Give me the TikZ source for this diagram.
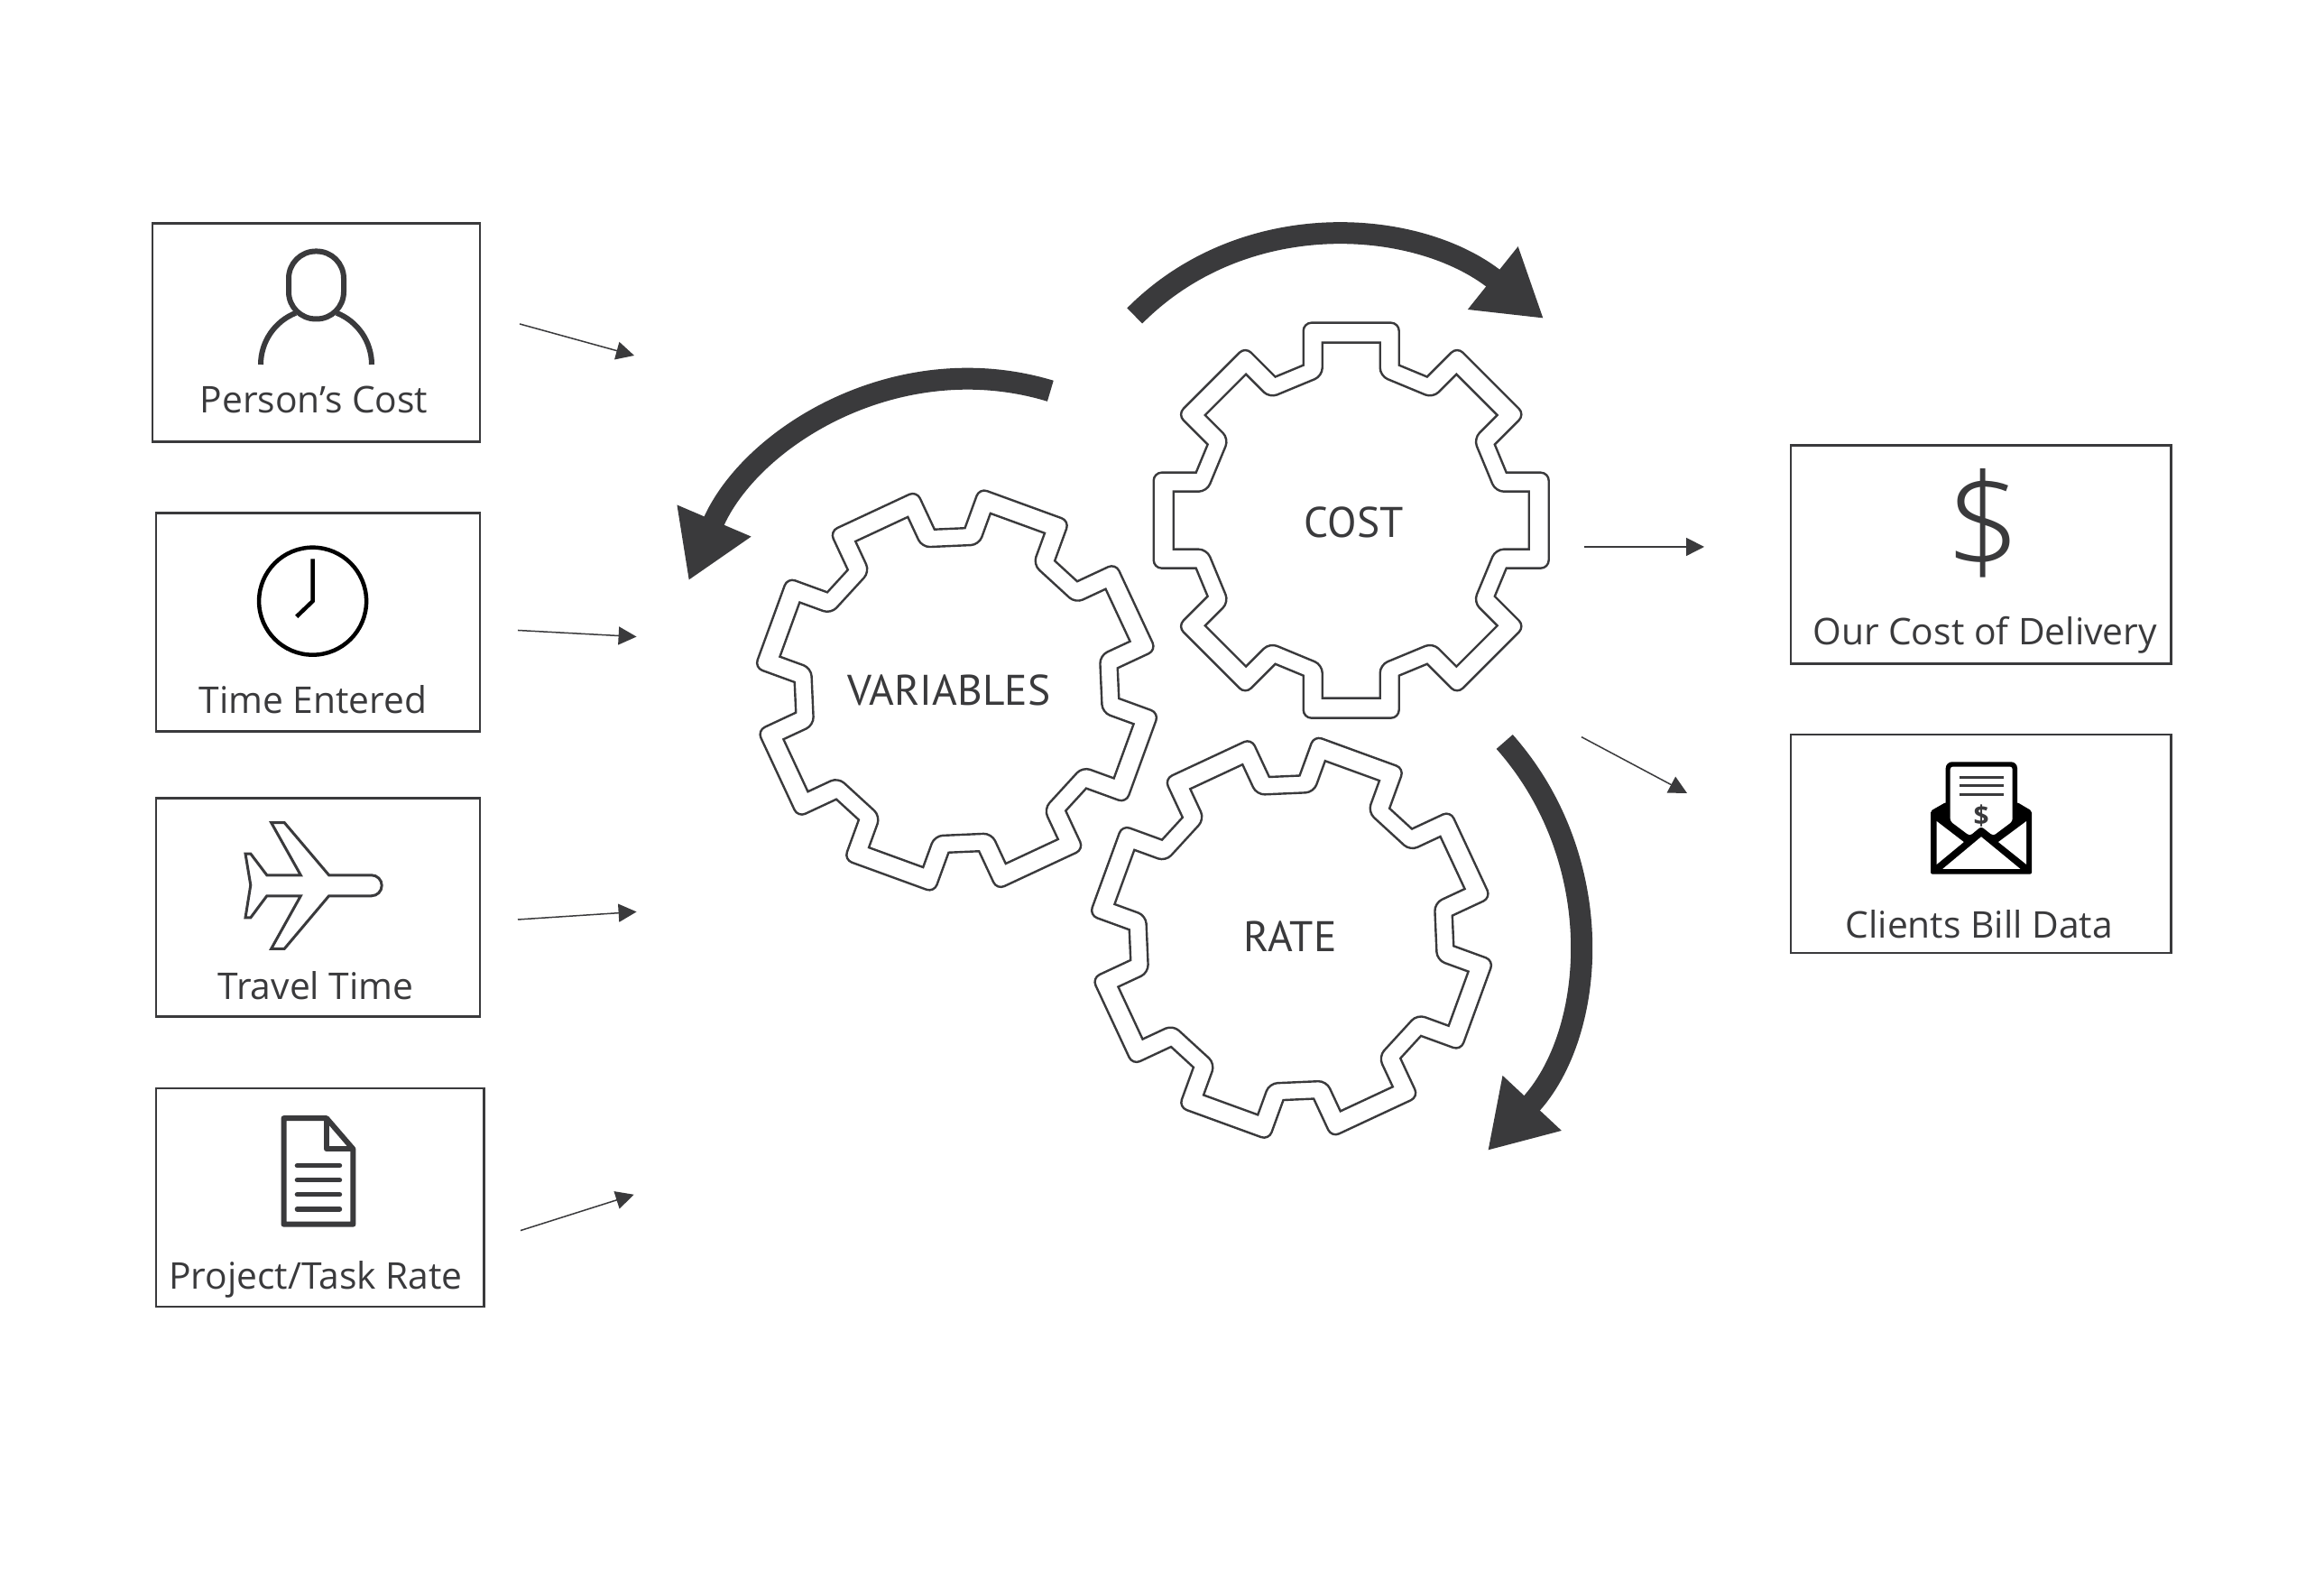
\documentclass[tikz,border=0pt]{standalone}
\usepackage{fontspec}
\setmainfont{Open Sans}
\newfontfamily\gearfont{PT Sans}
\newfontfamily\dollarfont{Open Sans Light}
\usetikzlibrary{arrows.meta, positioning}
\definecolor{inkgray}{RGB}{58, 58, 60}

\tikzset{
  infobox/.style={draw=inkgray, line width=0.026cm, inner sep=0pt, minimum height=2.42cm},
  boxlabel/.style={font=\fontsize{11.6}{13}\selectfont, text=inkgray, anchor=base, inner sep=0pt},
  gearlabel/.style={font=\gearfont\fontsize{13.5}{16}\selectfont, text=inkgray, anchor=base, inner sep=0pt},
  gearline/.style={draw=inkgray, line width=0.024cm},
  thinarrow/.style={draw=inkgray, line width=0.015cm, -{Triangle[length=0.2cm, width=0.2cm]}},
  bigarrow/.style={draw=inkgray, line width=0.24cm, -{Triangle[length=0.72cm, width=0.84cm]}},
  iconline/.style={draw=inkgray, line width=0.06cm},
  clockline/.style={draw=black, line width=0.045cm}
}

% eight teeth: outer contour round at the tips, inner contour round at the roots
\newcommand{\geardraw}[2]{
  \begin{scope}[shift={#1}, rotate=#2]
    \draw[gearline] (-.53,1.72)
      \foreach \a in {0,-45,...,-315} {
        [rounded corners=0.09cm] -- ([rotate=\a]-.53,2.19) -- ([rotate=\a].53,2.19)
        [sharp corners] -- ([rotate=\a].53,1.72) -- ([rotate=\a-45]-.53,1.72)
      } -- cycle;
    \draw[gearline] (-.32,1.97)
      \foreach \a in {0,-45,...,-315} {
        [sharp corners] -- ([rotate=\a].32,1.97)
        [rounded corners=0.09cm] -- ([rotate=\a].32,1.60) -- ([rotate=\a-45]-.32,1.60)
        [sharp corners] -- ([rotate=\a-45]-.32,1.97)
      } -- cycle;
  \end{scope}
}

\begin{document}
\begin{tikzpicture}
  \useasboundingbox (0, 0) rectangle (25.76, 17.42);
  \fill[white] (0, 0) rectangle (25.76, 17.42);

  % Input boxes
  \node[infobox, minimum width=3.63cm] (personbox) at (3.504, 13.733) {};
  \node[infobox, minimum width=3.59cm] (timebox) at (3.525, 10.527) {};
  \node[infobox, minimum width=3.59cm] (travelbox) at (3.525, 7.362) {};
  \node[infobox, minimum width=3.635cm] (ratebox) at (3.548, 4.151) {};
  \node[boxlabel] (personlabel) at (3.48, 12.848) {Person’s Cost};
  \node[boxlabel] (timelabel) at (3.47, 9.51) {Time Entered};
  \node[boxlabel] (travellabel) at (3.50, 6.34) {Travel Time};
  \node[boxlabel] (ratelabel) at (3.50, 3.133) {Project/Task Rate};

  % Output boxes
  \node[infobox, minimum width=4.217cm] (deliverybox) at (21.959, 11.277) {};
  \node[infobox, minimum width=4.217cm] (billbox) at (21.959, 8.07) {};
  \node[boxlabel] (deliverylabel) at (22.00, 10.27) {Our Cost of Delivery};
  \node[boxlabel] (billlabel) at (21.937, 7.025) {Clients Bill Data};

  % Person icon
  \draw[iconline, rounded corners=0.30cm] (3.20, 13.885) rectangle (3.81, 14.635);
  \draw[iconline] (2.89, 13.38) arc (180:111.6:0.615);
  \draw[iconline] (4.12, 13.38) arc (0:68.4:0.615);

  % Clock icon
  \node[clockline, circle, minimum size=1.19cm, inner sep=0pt] (clockface) at (3.466, 10.758) {};
  \draw[clockline] (3.467, 11.226) -- (clockface.center) -- (3.287, 10.586);

  % Plane icon
  \draw[draw=inkgray, line width=0.03cm] (3.007, 8.303) -- (3.153, 8.303) -- (3.646, 7.722) -- (4.117, 7.722)
    arc (90:-90:0.115) -- (3.646, 7.492) -- (3.153, 6.907) -- (3.007, 6.907) -- (3.333, 7.492)
    -- (2.958, 7.492) -- (2.778, 7.251) -- (2.72, 7.251) -- (2.778, 7.611) -- (2.72, 7.959)
    -- (2.778, 7.959) -- (2.958, 7.722) -- (3.333, 7.722) -- cycle;

  % Document icon
  \draw[iconline, line join=round] (3.145, 5.028) -- (3.62, 5.028) -- (3.914, 4.687) -- (3.914, 3.853)
    -- (3.145, 3.853) -- cycle;
  \draw[iconline, line join=round] (3.62, 5.028) -- (3.62, 4.687) -- (3.914, 4.687);
  \foreach \y in {4.503, 4.342, 4.182, 4.021} {
    \draw[iconline, line cap=round, line width=0.054cm] (3.294, \y) -- (3.765, \y);
  }

  % Dollar icon
  \node[font=\dollarfont\fontsize{42}{45}\selectfont, text=inkgray, inner sep=0pt] (dollarsign) at (21.985, 11.62) {\$};

  % Envelope icon
  \fill[black, rounded corners=0.02cm] (21.40, 8.434) -- (21.567, 8.529) -- (22.36, 8.529) -- (22.52, 8.434)
    -- (22.52, 7.733) -- (21.40, 7.733) -- cycle;
  \fill[black, rounded corners=0.07cm] (21.567, 8.977) rectangle (22.36, 8.25);
  \fill[white, rounded corners=0.03cm] (21.617, 8.924) -- (22.307, 8.924) -- (22.307, 8.319) -- (22.093, 8.158)
    -- (21.96, 8.262) -- (21.833, 8.158) -- (21.617, 8.319) -- cycle;
  \fill[white] (21.467, 8.319) -- (21.767, 8.089) -- (21.467, 7.841) -- cycle;
  \fill[white] (22.46, 8.319) -- (22.15, 8.089) -- (22.46, 7.841) -- cycle;
  \fill[white] (21.533, 7.791) -- (21.96, 8.147) -- (22.393, 7.791) -- cycle;
  \foreach \y in {8.801, 8.713, 8.617} {
    \draw[draw=inkgray, line width=0.03cm] (21.717, \y) -- (22.207, \y);
  }
  \node[font=\bfseries\fontsize{8.5}{9}\selectfont, text=inkgray, inner sep=0pt] (billdollar) at (21.96, 8.38) {\$};

  % Gears
  \geardraw{(14.977, 11.653)}{0}
  \geardraw{(10.605, 9.77)}{-20}
  \geardraw{(14.315, 7.027)}{-20}
  \node[gearlabel] (costlabel) at (15.007, 11.463) {COST};
  \node[gearlabel] (variableslabel) at (10.517, 9.603) {VARIABLES};
  \node[gearlabel] (rategearlabel) at (14.297, 6.87) {RATE};

  % Inputs and outputs
  \coordinate (inA) at (5.76, 13.83);
  \coordinate (inAend) at (7.03, 13.48);
  \coordinate (inB) at (5.74, 10.435);
  \coordinate (inBend) at (7.056, 10.364);
  \coordinate (inC) at (5.74, 7.23);
  \coordinate (inCend) at (7.056, 7.316);
  \coordinate (inD) at (5.77, 3.784);
  \coordinate (inDend) at (7.026, 4.182);
  \coordinate (outA) at (17.56, 11.36);
  \coordinate (outAend) at (18.89, 11.36);
  \coordinate (outB) at (17.53, 9.253);
  \coordinate (outBend) at (18.70, 8.63);
  \draw[thinarrow] (inA) -- (inAend);
  \draw[thinarrow] (inB) -- (inBend);
  \draw[thinarrow] (inC) -- (inCend);
  \draw[thinarrow] (inD) -- (inDend);
  \draw[thinarrow] (outA) -- (outAend);
  \draw[thinarrow] (outB) -- (outBend);

  % Rotation arrows
  \coordinate (turnA) at (12.577, 13.92);
  \coordinate (turnAend) at (17.11, 13.89);
  \coordinate (turnB) at (11.643, 13.087);
  \coordinate (turnBend) at (7.633, 10.987);
  \coordinate (turnC) at (16.677, 9.20);
  \coordinate (turnCend) at (16.49, 4.67);
  \draw[bigarrow] (turnA) .. controls (13.80, 15.15) and (15.72, 15.00) .. (turnAend);
  \draw[bigarrow] (turnB) .. controls (9.96, 13.596) and (8.312, 12.579) .. (turnBend);
  \draw[bigarrow] (turnC) .. controls (17.845, 7.88) and (17.695, 5.959) .. (turnCend);
\end{tikzpicture}
\end{document}
